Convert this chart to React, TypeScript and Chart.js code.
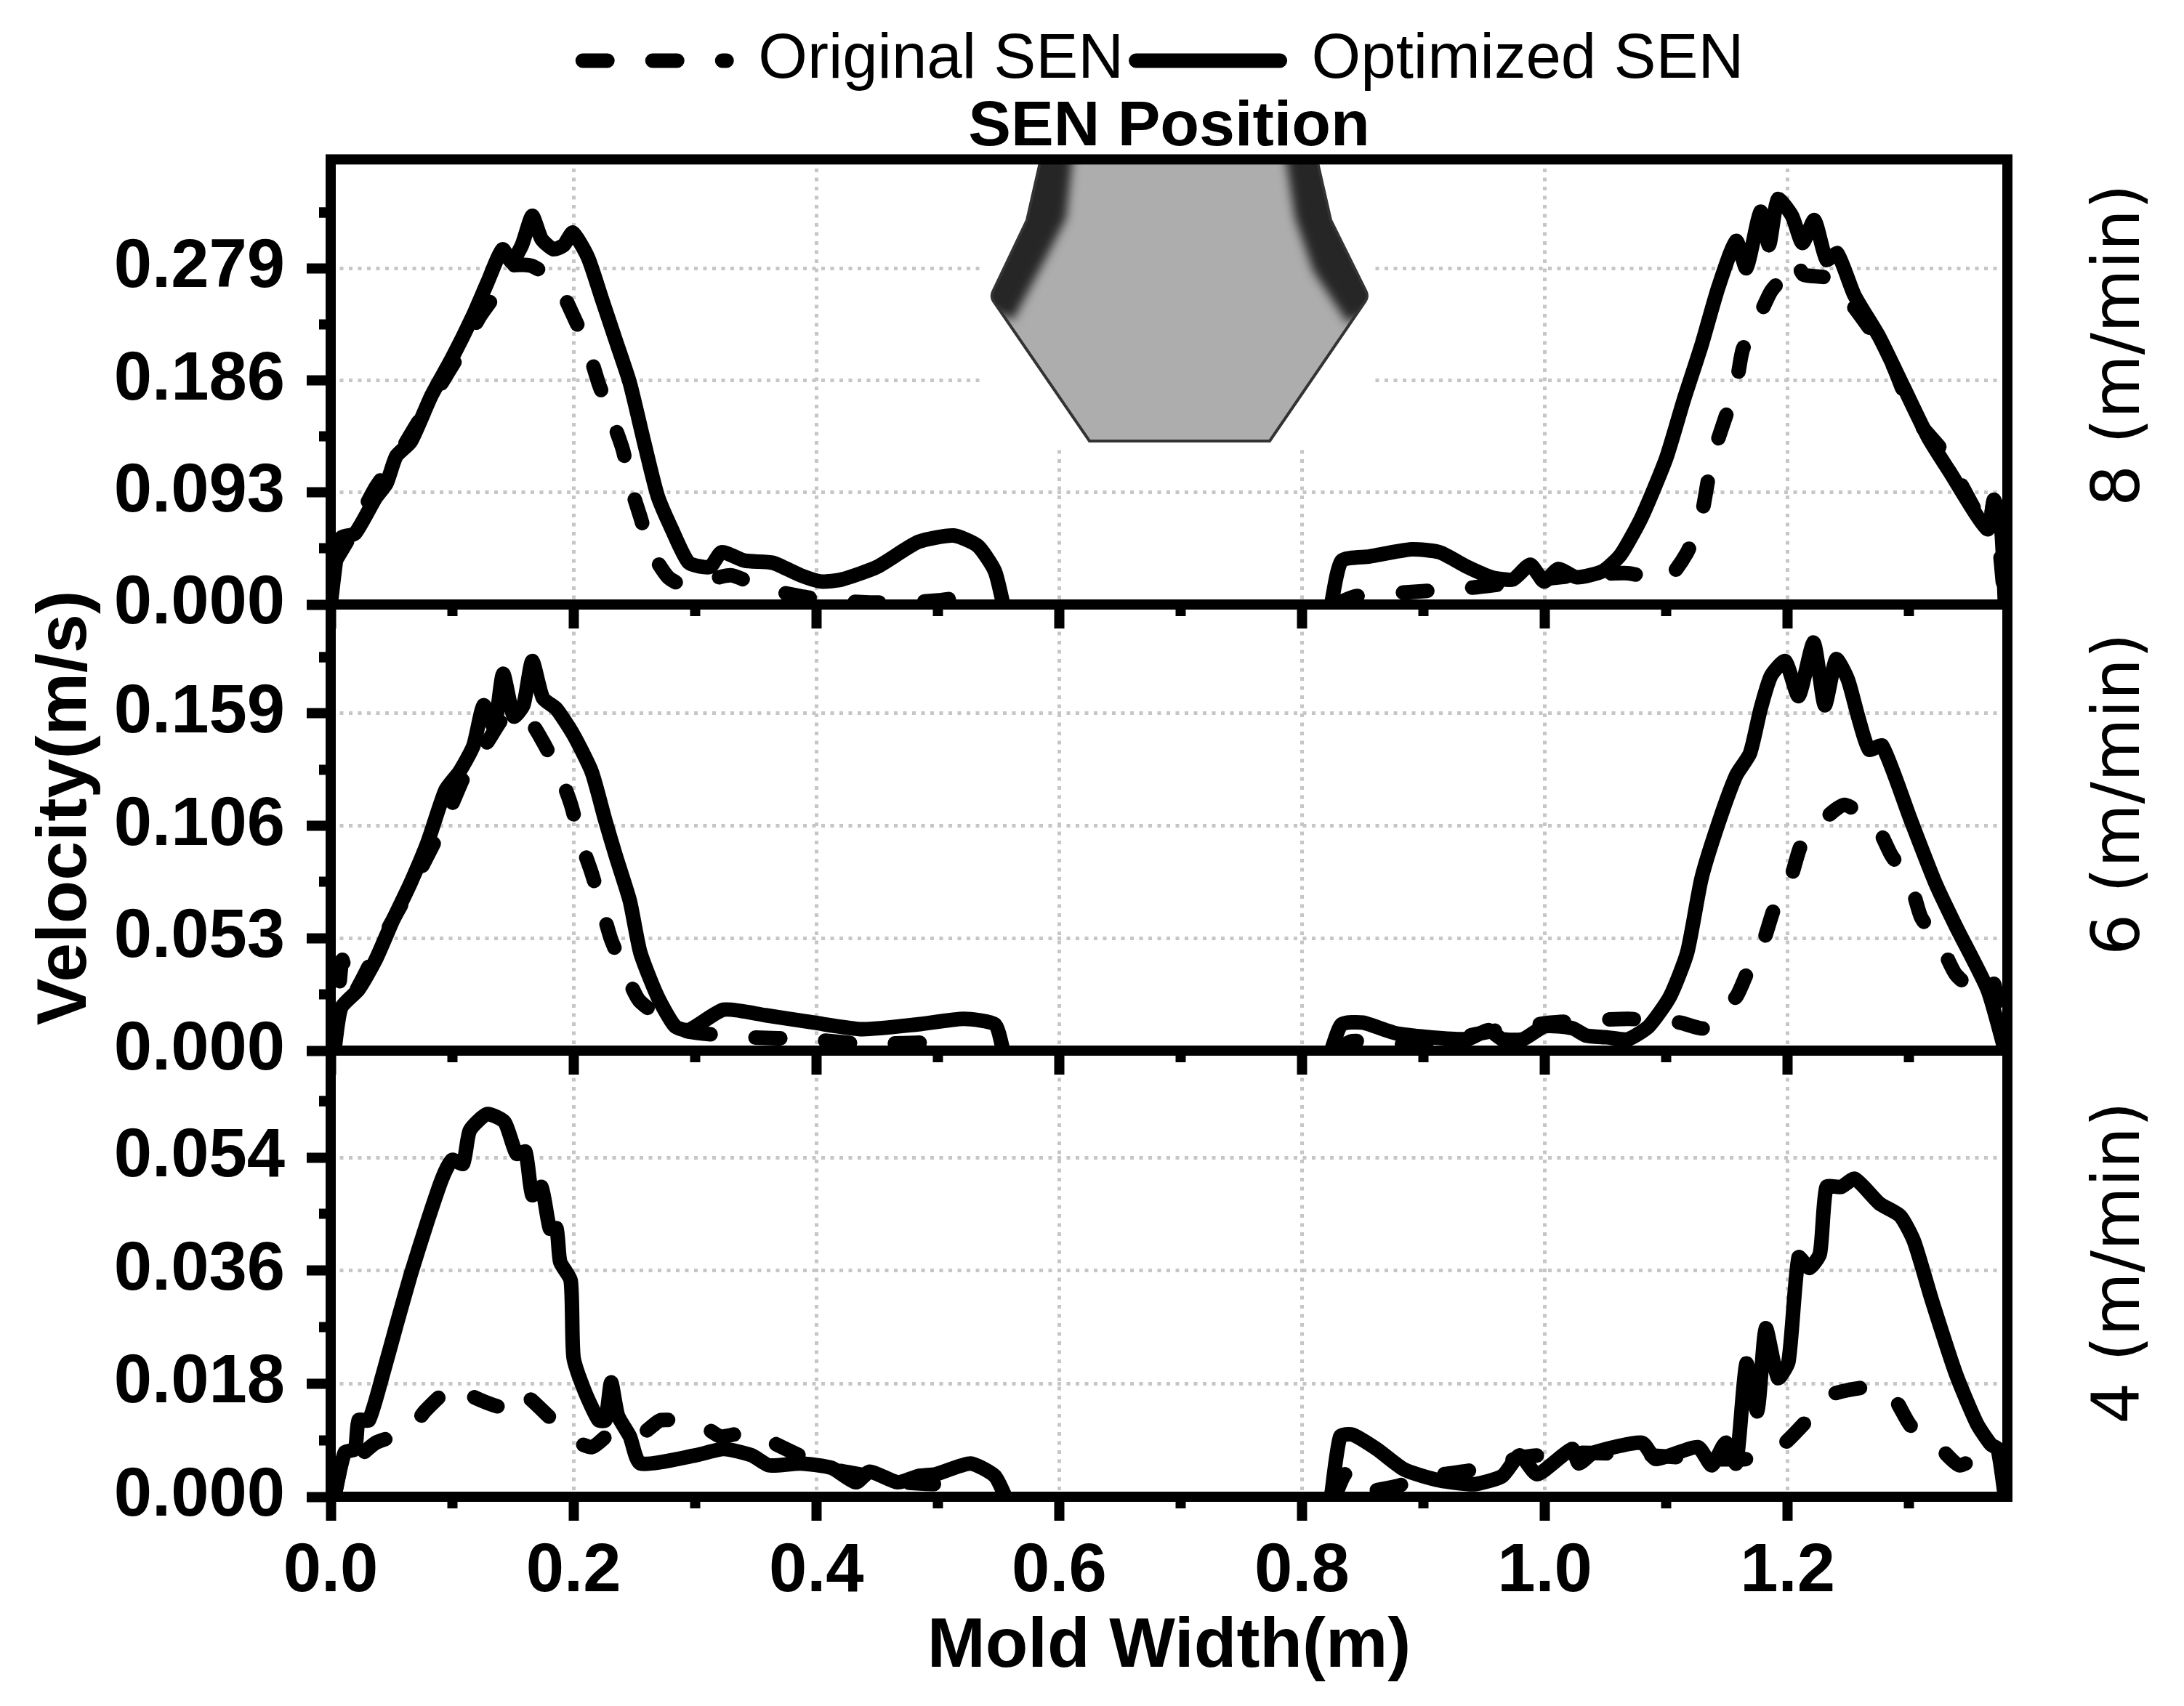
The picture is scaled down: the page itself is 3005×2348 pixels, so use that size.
import { useEffect, useRef } from 'react'
import { Chart, registerables } from 'chart.js'

Chart.register(...registerables)

// mold width (m) and velocity (m/s). null breaks the line across the SEN gap
const xOrig8 = [0.003, 0.0143, 0.037, 0.054, 0.083, 0.106, 0.123, 0.1375, 0.149, 0.166, 0.186, 0.2, 0.212, 0.2206, 0.231, 0.2407, 0.2464, 0.255, 0.2636, 0.278, 0.292, 0.3295, 0.355, 0.387, 0.41, 0.444, 0.473, 0.501, 0.527, 0.536, 0.7, 0.827, 0.8442, 0.8902, 0.939, 0.9822, 1.028, 1.0685, 1.1, 1.1173, 1.1288, 1.1346, 1.14, 1.149, 1.1576, 1.163, 1.175, 1.1863, 1.198, 1.2065, 1.213, 1.235, 1.2525, 1.27, 1.287, 1.304, 1.327, 1.3387, 1.3646, 1.37, 1.379]
const vOrig8 = [0.0347, 0.0538, 0.0972, 0.1215, 0.17, 0.2082, 0.2394, 0.26, 0.281, 0.281, 0.2672, 0.2394, 0.2117, 0.1839, 0.156, 0.1284, 0.1006, 0.0729, 0.0451, 0.0226, 0.0156, 0.0243, 0.0139, 0.0069, 0.0035, 0.0017, 0.0017, 0.0035, 0.0062, 0, null, 0, 0.0069, 0.0104, 0.0139, 0.0191, 0.0243, 0.026, 0.0208, 0.0434, 0.0729, 0.1041, 0.1284, 0.1561, 0.1822, 0.2117, 0.236, 0.26, 0.274, 0.2863, 0.274, 0.2707, 0.2498, 0.2256, 0.1978, 0.1561, 0.1284, 0.1076, 0.0625, 0.0868, 0]
const xOpt8 = [0, 0.0046, 0.0086, 0.02, 0.037, 0.046, 0.054, 0.066, 0.083, 0.1, 0.117, 0.129, 0.1415, 0.149, 0.1575, 0.166, 0.1736, 0.1834, 0.192, 0.1994, 0.212, 0.2235, 0.235, 0.2464, 0.258, 0.2693, 0.281, 0.295, 0.3123, 0.322, 0.341, 0.364, 0.387, 0.404, 0.421, 0.45, 0.484, 0.513, 0.533, 0.547, 0.554, 0.7, 0.824, 0.8327, 0.8557, 0.8902, 0.9132, 0.9362, 0.9563, 0.9736, 0.988, 0.9995, 1.011, 1.0265, 1.048, 1.0627, 1.08, 1.1, 1.1145, 1.129, 1.143, 1.1576, 1.166, 1.1777, 1.1846, 1.192, 1.2036, 1.2122, 1.222, 1.232, 1.241, 1.255, 1.2755, 1.2956, 1.3157, 1.333, 1.3646, 1.37, 1.376, 1.379]
const vOpt8 = [0, 0.0382, 0.0555, 0.059, 0.0885, 0.1006, 0.1232, 0.1353, 0.1735, 0.2047, 0.2394, 0.2672, 0.295, 0.2845, 0.2984, 0.3227, 0.3036, 0.295, 0.2984, 0.3088, 0.288, 0.2533, 0.2186, 0.1839, 0.1353, 0.0902, 0.0625, 0.0347, 0.0312, 0.0434, 0.0364, 0.0347, 0.0243, 0.0191, 0.0208, 0.0312, 0.052, 0.0573, 0.0486, 0.0278, 0, null, 0, 0.0364, 0.0399, 0.0458, 0.0434, 0.0312, 0.0226, 0.0208, 0.033, 0.0191, 0.0295, 0.0226, 0.0278, 0.0416, 0.0729, 0.1215, 0.17, 0.2151, 0.2637, 0.3019, 0.2793, 0.3262, 0.2984, 0.3366, 0.3227, 0.3002, 0.3192, 0.2863, 0.2915, 0.2568, 0.2221, 0.1804, 0.1388, 0.111, 0.0625, 0.0868, 0.0625, 0]

const xOrig6 = [0.003, 0.0074, 0.0097, 0.017, 0.043, 0.0716, 0.0945, 0.1117, 0.129, 0.146, 0.1633, 0.175, 0.189, 0.198, 0.206, 0.215, 0.2235, 0.231, 0.2435, 0.254, 0.278, 0.295, 0.344, 0.3925, 0.441, 0.4985, 0.507, 0.7, 0.827, 0.8413, 0.896, 0.9535, 1.005, 1.0685, 1.0915, 1.1116, 1.1317, 1.1576, 1.166, 1.1806, 1.189, 1.2024, 1.211, 1.2266, 1.2467, 1.2726, 1.2852, 1.3013, 1.31, 1.327, 1.3387, 1.3646, 1.37, 1.373, 1.379]
const vOrig6 = [0, 0.0324, 0.0428, 0.0254, 0.0532, 0.0828, 0.1089, 0.1315, 0.1455, 0.1594, 0.1559, 0.1455, 0.1298, 0.1159, 0.0985, 0.0837, 0.0672, 0.0524, 0.0358, 0.0237, 0.0132, 0.0089, 0.0063, 0.0054, 0.0031, 0.0037, 0, null, 0, 0.0045, 0.0028, 0.0089, 0.0132, 0.015, 0.0139, 0.0132, 0.0106, 0.0254, 0.0358, 0.0524, 0.0672, 0.0811, 0.0967, 0.1072, 0.1159, 0.1063, 0.0924, 0.0785, 0.0628, 0.0489, 0.0358, 0.0237, 0.0315, 0.0202, 0]
const xOpt6 = [0.003, 0.0086, 0.023, 0.037, 0.0516, 0.066, 0.08, 0.0945, 0.106, 0.1175, 0.126, 0.1347, 0.142, 0.1507, 0.1587, 0.166, 0.1748, 0.186, 0.2, 0.215, 0.226, 0.235, 0.2464, 0.255, 0.2693, 0.2836, 0.295, 0.3237, 0.358, 0.398, 0.438, 0.484, 0.5214, 0.547, 0.554, 0.7, 0.824, 0.8327, 0.85, 0.8787, 0.9362, 0.9535, 0.965, 0.982, 1.0, 1.0225, 1.034, 1.051, 1.0685, 1.0857, 1.103, 1.1173, 1.129, 1.143, 1.1576, 1.169, 1.1777, 1.1863, 1.198, 1.209, 1.2214, 1.2306, 1.24, 1.2496, 1.258, 1.267, 1.278, 1.3013, 1.3215, 1.3387, 1.3646, 1.379]
const vOpt6 = [0, 0.0202, 0.0289, 0.0428, 0.0619, 0.0793, 0.0985, 0.1228, 0.1315, 0.1437, 0.1629, 0.1524, 0.1777, 0.1576, 0.1629, 0.1837, 0.1663, 0.1611, 0.1489, 0.1315, 0.1089, 0.0915, 0.0706, 0.0463, 0.0254, 0.0115, 0.0097, 0.0193, 0.0167, 0.0132, 0.0101, 0.0124, 0.015, 0.0124, 0, null, 0, 0.0124, 0.0132, 0.008, 0.0054, 0.0097, 0.0054, 0.0054, 0.0115, 0.0106, 0.0071, 0.0063, 0.0054, 0.0115, 0.0254, 0.0463, 0.0811, 0.1072, 0.1298, 0.1402, 0.1611, 0.1768, 0.1837, 0.1672, 0.1924, 0.1629, 0.1846, 0.175, 0.1576, 0.142, 0.1437, 0.1089, 0.0793, 0.0585, 0.0289, 0]

const xOrig4 = [0.003, 0.0115, 0.02, 0.0372, 0.066, 0.0774, 0.103, 0.1175, 0.1433, 0.1547, 0.1805, 0.195, 0.215, 0.232, 0.258, 0.272, 0.3037, 0.321, 0.344, 0.361, 0.3925, 0.4155, 0.444, 0.473, 0.4985, 0.5186, 0.527, 0.7, 0.827, 0.8356, 0.8413, 0.8787, 0.896, 0.942, 0.9822, 1.028, 1.0857, 1.1317, 1.166, 1.1806, 1.198, 1.221, 1.235, 1.27, 1.287, 1.3013, 1.3215, 1.3416, 1.3617, 1.376]
const vOrig4 = [0, 0.007, 0.006, 0.0086, 0.0106, 0.0136, 0.0179, 0.0159, 0.0142, 0.0169, 0.0126, 0.0096, 0.0079, 0.0103, 0.0103, 0.0122, 0.0116, 0.0096, 0.0103, 0.0089, 0.006, 0.0043, 0.0033, 0.0023, 0.002, 0.002, 0, null, 0, 0.0036, 0.0007, 0.0017, 0.003, 0.0043, 0.0063, 0.007, 0.0066, 0.006, 0.006, 0.0066, 0.0086, 0.0132, 0.0162, 0.0175, 0.0159, 0.0113, 0.0086, 0.005, 0.007, 0.0073]
const xOpt4 = [0.003, 0.0115, 0.02, 0.023, 0.0315, 0.043, 0.0544, 0.066, 0.08, 0.0917, 0.1, 0.109, 0.1146, 0.129, 0.1433, 0.153, 0.1604, 0.166, 0.1736, 0.1805, 0.186, 0.189, 0.1977, 0.2, 0.209, 0.2206, 0.2263, 0.231, 0.2366, 0.2464, 0.255, 0.3008, 0.3237, 0.3467, 0.361, 0.387, 0.4126, 0.4326, 0.444, 0.467, 0.484, 0.4985, 0.527, 0.547, 0.5558, 0.7, 0.824, 0.8315, 0.8413, 0.8615, 0.8845, 0.9132, 0.942, 0.965, 0.9793, 0.9937, 1.0225, 1.028, 1.04, 1.08, 1.0915, 1.126, 1.1375, 1.149, 1.1576, 1.166, 1.175, 1.182, 1.192, 1.2007, 1.209, 1.218, 1.2266, 1.232, 1.244, 1.2553, 1.2755, 1.2927, 1.304, 1.3186, 1.3387, 1.356, 1.3675, 1.373, 1.379]
const vOpt4 = [0, 0.007, 0.0076, 0.0122, 0.0122, 0.0195, 0.0275, 0.0354, 0.044, 0.0506, 0.0536, 0.053, 0.0583, 0.0609, 0.0596, 0.0546, 0.0549, 0.048, 0.0493, 0.0427, 0.0427, 0.0374, 0.0344, 0.0222, 0.0169, 0.0122, 0.0122, 0.0182, 0.0129, 0.0096, 0.0053, 0.0066, 0.0076, 0.0066, 0.005, 0.0053, 0.0046, 0.0023, 0.004, 0.0023, 0.0033, 0.0036, 0.0053, 0.0033, 0, null, 0, 0.0096, 0.0099, 0.0076, 0.0043, 0.0026, 0.002, 0.0033, 0.0066, 0.0036, 0.0076, 0.0053, 0.007, 0.0086, 0.006, 0.0079, 0.005, 0.0086, 0.0053, 0.0212, 0.0136, 0.0268, 0.0189, 0.0215, 0.0381, 0.0364, 0.0387, 0.0493, 0.0493, 0.0506, 0.0467, 0.0447, 0.0407, 0.0314, 0.0195, 0.0116, 0.0083, 0.0076, 0]

const xTicks = [0, 0.2, 0.4, 0.6, 0.8, 1.0, 1.2]
const xMinorTicks = [0.1, 0.3, 0.5, 0.7, 0.9, 1.1, 1.3]
const xMax = 1.381

const SANS = "'Liberation Sans', Arial, sans-serif"
const GRID = '#c6c6c6'

const grid = (skipValue: number) => ({
  color: (c: any) => (c.tick && c.tick.value === skipValue ? 'transparent' : GRID),
  lineWidth: 5,
  tickColor: '#000',
  tickWidth: 14,
  tickLength: 33,
  tickBorderDash: [],
})

// tick labels must not push the plot area around
const noMargins = (s: any) => {
  s.paddingTop = s.paddingBottom = s.paddingLeft = s.paddingRight = 0
}

const frame = {
  id: 'frame',
  afterDatasetsDraw(chart: Chart) {
    const { ctx, chartArea: a } = chart
    ctx.save()
    ctx.strokeStyle = '#000'
    ctx.lineWidth = 14
    ctx.lineJoin = 'miter'
    ctx.strokeRect(a.left, a.top, a.right - a.left, a.bottom - a.top)
    ctx.restore()
  },
}

// the grey SEN cross-section sitting in the top of the first panel
const senPicture = {
  id: 'senPicture',
  afterLayout(chart: any) {
    chart.legend.left -= 8
    chart.legend.right -= 8
  },
  beforeDatasetsDraw(chart: Chart) {
    const { ctx } = chart
    const outline = () => {
      ctx.beginPath()
      ctx.moveTo(1431, 224)
      ctx.lineTo(1413, 303)
      ctx.arcTo(1363, 408, 1375, 428, 14)
      ctx.lineTo(1499, 607)
      ctx.lineTo(1747, 607)
      ctx.arcTo(1883, 408, 1831, 303, 14)
      ctx.lineTo(1831, 303)
      ctx.lineTo(1813, 224)
      ctx.closePath()
    }
    ctx.save()
    ctx.fillStyle = '#fff'
    ctx.fillRect(1355, 225, 535, 388)
    outline()
    ctx.fillStyle = '#adadad'
    ctx.fill()
    ctx.save()
    outline()
    ctx.clip()
    ctx.filter = 'blur(7px)'
    ctx.fillStyle = '#262626'
    ctx.beginPath()
    ctx.moveTo(1400, 205)
    ctx.lineTo(1477, 205)
    ctx.lineTo(1467, 300)
    ctx.lineTo(1440, 353)
    ctx.lineTo(1394, 440)
    ctx.lineTo(1340, 420)
    ctx.closePath()
    ctx.fill()
    ctx.beginPath()
    ctx.moveTo(1767, 205)
    ctx.lineTo(1840, 205)
    ctx.lineTo(1905, 420)
    ctx.lineTo(1854, 444)
    ctx.lineTo(1807, 373)
    ctx.lineTo(1782, 300)
    ctx.closePath()
    ctx.fill()
    ctx.restore()
    outline()
    ctx.strokeStyle = '#333'
    ctx.lineWidth = 4
    ctx.stroke()
    ctx.restore()
  },
}

interface PanelProps {
  top: number
  height: number
  padTop: number
  axisHeight: number
  yMax: number
  yTicks: number[]
  xOrig: number[]
  vOrig: (number | null)[]
  xOpt: number[]
  vOpt: (number | null)[]
  layer: number
  first?: boolean
  last?: boolean
}

function Panel({ top, height, padTop, axisHeight, yMax, yTicks, xOrig, vOrig, xOpt, vOpt, layer, first, last }: PanelProps) {
  const ref = useRef<HTMLCanvasElement>(null)

  useEffect(() => {
    if (!ref.current) return
    const step = yTicks[1]
    const yMinorTicks = yTicks.map(v => v + step / 2).concat(yTicks[yTicks.length - 1] + step / 2)
    const chart = new Chart(ref.current, {
      type: 'line',
      data: {
        datasets: [
          {
            label: 'Original SEN',
            data: xOrig.map((x, i) => ({ x, y: vOrig[i] })) as any,
            borderDash: [34, 62],
          },
          {
            label: 'Optimized SEN',
            data: xOpt.map((x, i) => ({ x, y: vOpt[i] })) as any,
            borderDash: [],
          },
        ].map(ds => ({
          ...ds,
          borderColor: '#000',
          backgroundColor: '#000',
          borderWidth: 20,
          borderCapStyle: 'round' as const,
          borderJoinStyle: 'round' as const,
          pointRadius: 0,
          tension: 0.2,
        })),
      },
      options: {
        responsive: false,
        animation: false,
        devicePixelRatio: 1,
        layout: { padding: { top: padTop, right: 243, left: 0, bottom: 0 } },
        scales: {
          x: {
            type: 'linear',
            min: 0,
            max: xMax,
            afterBuildTicks: s => { s.ticks = xTicks.map(value => ({ value })) },
            afterFit: s => { s.height = axisHeight; noMargins(s) },
            grid: grid(0),
            border: { display: false, dash: [5, 7.5] },
            ticks: {
              display: !!last,
              autoSkip: false,
              maxRotation: 0,
              padding: 15,
              color: '#000',
              font: { family: SANS, size: 94, weight: 'bold' },
              callback: v => Number(v).toFixed(1),
            },
            title: {
              display: !!last,
              text: 'Mold Width(m)',
              color: '#000',
              font: { family: SANS, size: 96, weight: 'bold' },
              padding: { top: 0, bottom: 23 },
            },
          },
          y: {
            min: 0,
            max: yMax,
            afterBuildTicks: s => { s.ticks = yTicks.map(value => ({ value })) },
            afterFit: s => { s.width = 455; noMargins(s) },
            grid: grid(0),
            border: { display: false, dash: [5, 7.5] },
            ticks: {
              autoSkip: false,
              padding: 30,
              color: '#000',
              font: { family: SANS, size: 94, weight: 'bold' },
              callback: v => Number(v).toFixed(3),
            },
          },
          xMinor: {
            axis: 'x',
            type: 'linear',
            position: { y: 0 },
            min: 0,
            max: xMax,
            afterBuildTicks: s => { s.ticks = xMinorTicks.map(value => ({ value })) },
            grid: { drawOnChartArea: false, tickColor: '#000', tickWidth: 14, tickLength: 16 },
            border: { display: false },
            ticks: { display: false, autoSkip: false },
          },
          yMinor: {
            axis: 'y',
            type: 'linear',
            position: { x: 0 },
            min: 0,
            max: yMax,
            afterBuildTicks: s => { s.ticks = yMinorTicks.map(value => ({ value })) },
            grid: { drawOnChartArea: false, tickColor: '#000', tickWidth: 14, tickLength: 16 },
            border: { display: false },
            ticks: { display: false, autoSkip: false },
          },
        },
        plugins: {
          tooltip: { enabled: false },
          legend: {
            display: !!first,
            position: 'top',
            fullSize: false,
            weight: 3000,
            labels: {
              usePointStyle: true,
              pointStyle: 'line',
              pointStyleWidth: 198,
              padding: 17,
              color: '#000',
              font: { family: SANS, size: 87 },
              generateLabels: (c: Chart) =>
                Chart.defaults.plugins.legend.labels.generateLabels(c).map((item: any, i: number) => ({
                  ...item,
                  lineDash: (c.data.datasets[i] as any).borderDash,
                  lineCap: 'round',
                  lineWidth: 20,
                  strokeStyle: '#000',
                })),
            },
          },
          title: {
            display: !!first,
            text: 'SEN Position',
            position: 'top',
            fullSize: false,
            weight: 2000,
            color: '#000',
            font: { family: SANS, size: 88, weight: 'bold', lineHeight: 0.8 },
            padding: { top: 4, bottom: 8 },
          },
        },
      } as any,
      plugins: first ? [senPicture, frame] : [frame],
    })
    return () => chart.destroy()
  }, [])

  return (
    <canvas
      ref={ref}
      width={3005}
      height={height}
      style={{ position: 'absolute', left: 0, top, width: 3005, height, zIndex: layer }}
    />
  )
}

function SideText({ text, x, y, font, size, weight }: { text: string; x: number; y: number; font: string; size: number; weight?: string }) {
  return (
    <div
      style={{
        position: 'absolute',
        left: x,
        top: y,
        transform: 'translate(-50%, -50%) rotate(-90deg)',
        whiteSpace: 'nowrap',
        fontFamily: font,
        fontSize: size,
        fontWeight: weight || 'normal',
        lineHeight: 1,
        color: '#000',
      }}
    >
      {text}
    </div>
  )
}

export default function App() {
  return (
    <div style={{ position: 'fixed', left: 0, top: 0, width: 3005, height: 2348, overflow: 'hidden', background: '#fff' }}>
      <Panel top={0} height={872} padTop={23} axisHeight={40} yMax={0.3696} yTicks={[0, 0.093, 0.186, 0.279]} xOrig={xOrig8} vOrig={vOrig8} xOpt={xOpt8} vOpt={vOpt8} layer={3} first />
      <Panel top={820} height={666} padTop={12} axisHeight={40} yMax={0.2104} yTicks={[0, 0.053, 0.106, 0.159]} xOrig={xOrig6} vOrig={vOrig6} xOpt={xOpt6} vOpt={vOpt6} layer={2} />
      <Panel top={1434} height={914} padTop={12} axisHeight={288} yMax={0.071} yTicks={[0, 0.018, 0.036, 0.054]} xOrig={xOrig4} vOrig={vOrig4} xOpt={xOpt4} vOpt={vOpt4} layer={1} last />
      <SideText text="Velocity(m/s)" x={84} y={1112} font={SANS} size={97} weight="bold" />
      <SideText text="8 (m/min)" x={2912} y={475} font="'DejaVu Sans'" size={90} />
      <SideText text="6 (m/min)" x={2912} y={1093} font="'DejaVu Sans'" size={90} />
      <SideText text="4 (m/min)" x={2912} y={1738} font="'DejaVu Sans'" size={90} />
    </div>
  )
}
